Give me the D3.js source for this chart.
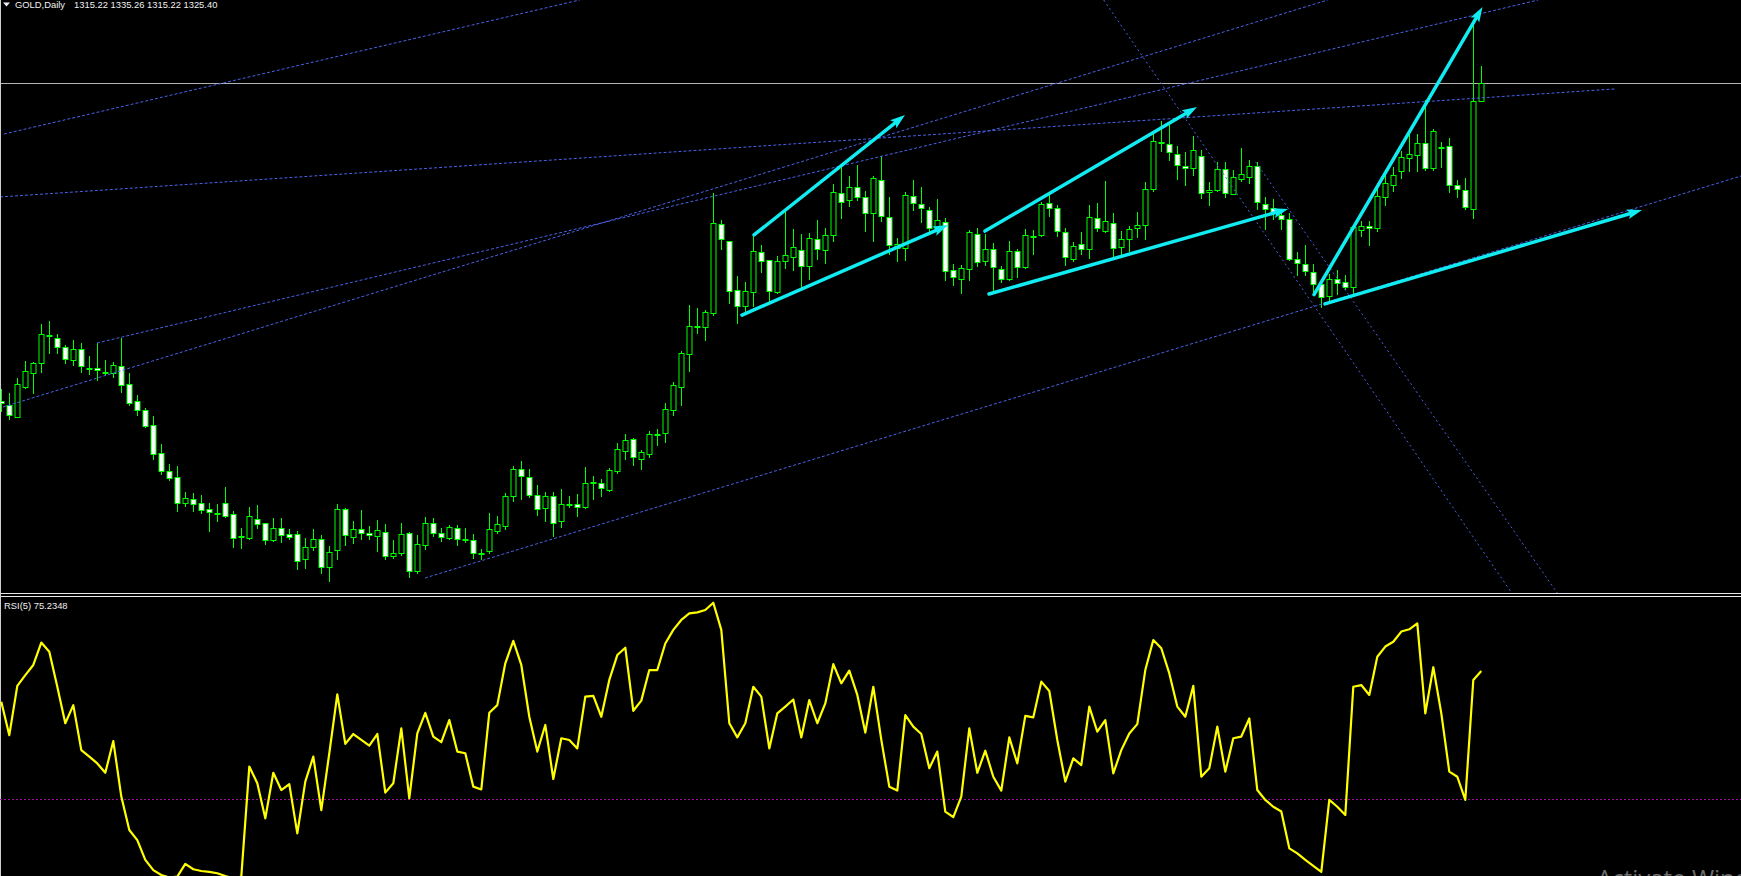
<!DOCTYPE html>
<html><head><meta charset="utf-8">
<script src="https://cdn.jsdelivr.net/npm/d3@7"></script>
<style>html,body{margin:0;padding:0;background:#000;overflow:hidden}svg{display:block}</style>
</head><body><svg id="c" width="1741" height="876"></svg>
<script>
// ---- DATA (GOLD, Daily) ----
const opens=[1145.7,1143.6,1136.8,1153.6,1161.7,1167.4,1182.3,1181.1,1176.0,1169.1,
1174.9,1164.6,1164.2,1162.0,1161.7,1165.3,1155.1,1145.5,1140.4,1131.9,
1116.1,1105.9,1102.5,1088.2,1090.1,1087.8,1084.4,1082.4,1087.8,1081.6,
1069.3,1068.4,1078.8,1076.5,1067.3,1073.7,1070.3,1070.3,1056.1,1063.3,
1067.5,1051.6,1061.2,1084.4,1069.0,1073.1,1070.9,1069.5,1071.4,1057.8,
1059.5,1070.9,1049.7,1064.1,1076.5,1070.9,1068.4,1073.7,1067.5,1066.9,
1059.5,1060.7,1072.0,1075.2,1092.2,1107.1,1102.5,1092.7,1085.0,1091.8,
1077.6,1087.4,1087.3,1085.6,1099.7,1099.5,1095.5,1106.3,1117.6,1124.0,
1113.1,1115.9,1127.2,1127.4,1140.4,1153.8,1172.1,1188.1,1187.7,1195.7,
1245.6,1236.0,1208.3,1199.6,1207.5,1229.8,1225.3,1207.5,1224.7,1227.0,
1230.9,1221.9,1237.1,1230.9,1239.4,1263.2,1259.2,1266.5,1260.9,1252.2,
1270.5,1249.6,1232.0,1232.0,1261.5,1256.9,1253.5,1243.7,1247.1,1219.6,
1214.9,1220.5,1240.0,1224.7,1231.5,1220.2,1214.9,1230.4,1221.3,1239.2,
1239.4,1257.5,1254.7,1241.1,1225.8,1234.3,1231.5,1249.0,1241.7,1246.2,
1232.6,1237.1,1243.4,1245.1,1265.8,1292.0,1290.9,1285.2,1278.8,1277.3,
1284.1,1263.7,1265.0,1277.1,1263.0,1271.5,1272.6,1278.4,1257.3,1254.7,
1250.7,1248.4,1226.2,1223.0,1218.9,1212.1,1204.9,1214.5,1212.8,1210.0,
1242.2,1244.7,1243.4,1261.3,1268.1,1275.6,1282.9,1284.6,1291.4,1277.7,
1289.4,1289.9,1267.7,1264.9,1254.1,1315.22];
const highs=[1152.3,1150.0,1158.5,1168.3,1167.6,1189.2,1190.9,1183.6,1177.4,1180.2,
1178.3,1171.2,1178.3,1168.9,1167.8,1181.5,1161.3,1149.1,1141.6,1137.2,
1121.4,1110.1,1108.9,1094.2,1093.5,1092.3,1087.8,1087.4,1096.9,1083.7,
1073.7,1085.6,1086.9,1076.9,1079.3,1079.3,1073.3,1072.0,1068.2,1073.3,
1069.9,1063.7,1087.4,1085.0,1077.6,1084.0,1075.0,1078.4,1075.9,1067.1,
1076.7,1071.6,1069.9,1080.1,1079.7,1073.7,1075.6,1075.8,1074.1,1070.7,
1062.0,1082.2,1080.5,1093.9,1108.9,1111.8,1107.1,1098.0,1094.2,1094.2,
1095.9,1092.0,1092.9,1108.4,1103.3,1101.4,1107.6,1121.8,1126.9,1124.8,
1118.0,1128.5,1129.7,1144.4,1156.3,1173.8,1200.0,1198.1,1197.2,1263.2,
1248.1,1236.4,1216.4,1213.0,1240.2,1233.9,1225.6,1227.7,1252.8,1242.8,
1240.2,1240.7,1248.1,1243.4,1268.4,1278.2,1273.0,1279.2,1264.5,1273.0,
1284.3,1261.1,1237.7,1263.7,1270.7,1266.5,1255.2,1259.9,1249.0,1223.2,
1222.6,1242.4,1243.5,1240.2,1234.9,1222.1,1236.2,1231.5,1243.0,1242.4,
1258.1,1262.2,1256.4,1243.5,1235.6,1241.3,1256.4,1257.5,1270.1,1252.0,
1241.9,1244.7,1252.6,1269.6,1297.7,1304.1,1301.8,1289.9,1286.3,1295.6,
1287.7,1269.4,1281.1,1280.9,1276.4,1288.6,1282.0,1281.1,1260.9,1259.9,
1253.7,1251.8,1230.0,1233.7,1223.2,1213.2,1217.7,1219.8,1217.0,1245.2,
1247.5,1247.7,1268.8,1274.8,1278.2,1287.3,1296.7,1296.7,1315.9,1299.5,
1292.4,1294.6,1270.7,1271.8,1358.4,1335.26];
const lows=[1140.2,1135.3,1136.5,1153.2,1150.4,1162.3,1173.0,1173.0,1167.4,1166.1,
1162.3,1161.0,1157.6,1161.0,1159.5,1151.0,1143.4,1137.8,1130.8,1112.9,
1104.4,1101.0,1083.7,1086.3,1083.7,1082.5,1072.4,1078.0,1079.9,1063.3,
1062.7,1067.5,1073.9,1065.0,1066.5,1066.1,1067.6,1050.9,1051.2,1061.4,
1048.6,1044.1,1056.1,1064.4,1065.6,1067.5,1067.5,1060.7,1056.5,1057.1,
1058.6,1046.0,1048.6,1062.2,1069.3,1066.7,1067.8,1064.4,1065.8,1057.1,
1056.1,1059.7,1070.9,1073.1,1089.3,1090.5,1091.6,1081.4,1078.0,1069.5,
1074.6,1085.9,1080.8,1085.2,1090.5,1092.2,1095.0,1105.2,1113.1,1109.7,
1107.1,1113.8,1120.8,1122.7,1137.8,1143.4,1162.9,1184.4,1180.4,1194.5,
1231.9,1201.3,1190.0,1196.2,1199.4,1218.9,1201.9,1206.6,1221.1,1219.8,
1210.4,1214.9,1226.0,1223.9,1236.4,1249.4,1256.2,1259.6,1241.9,1236.4,
1247.7,1228.8,1225.1,1225.5,1253.7,1247.1,1241.9,1242.4,1214.1,1211.3,
1207.0,1214.1,1222.2,1222.6,1208.1,1213.2,1214.1,1216.0,1220.9,1228.8,
1239.0,1250.5,1239.0,1222.8,1224.7,1228.8,1226.8,1241.7,1241.3,1227.0,
1228.8,1230.7,1238.6,1237.1,1264.3,1287.3,1282.0,1271.5,1268.1,1273.7,
1260.7,1256.4,1264.3,1261.3,1262.6,1270.3,1268.8,1254.5,1243.2,1248.4,
1242.8,1225.5,1217.2,1217.2,1206.0,1199.1,1202.8,1206.0,1208.9,1205.7,
1239.2,1233.9,1241.9,1256.4,1264.3,1271.8,1276.0,1276.0,1276.4,1276.2,
1278.2,1264.1,1260.9,1254.1,1249.4,1315.22];
const closes=[1144.4,1137.6,1155.1,1162.5,1167.4,1183.4,1183.0,1176.0,1169.6,1174.9,
1165.7,1164.2,1163.0,1161.8,1165.9,1154.9,1144.8,1140.8,1131.7,1115.9,
1106.3,1102.3,1088.2,1090.6,1087.6,1084.2,1083.1,1082.0,1080.8,1068.4,
1069.0,1080.5,1076.3,1067.3,1073.7,1069.7,1069.0,1055.4,1062.9,1067.5,
1051.6,1060.1,1084.4,1069.7,1073.1,1070.9,1069.7,1072.6,1057.8,1059.5,
1070.3,1049.4,1064.6,1076.5,1070.9,1068.6,1074.2,1067.5,1067.1,1059.5,
1059.2,1073.1,1075.9,1091.8,1107.1,1103.1,1092.3,1084.4,1091.8,1076.5,
1087.3,1087.1,1085.6,1099.1,1099.3,1096.3,1106.5,1118.4,1123.5,1113.8,
1116.7,1126.9,1126.9,1141.0,1154.6,1172.9,1187.9,1187.7,1195.9,1246.2,
1237.1,1208.1,1199.2,1207.7,1230.5,1225.1,1207.7,1224.9,1228.1,1232.6,
1221.9,1237.7,1231.5,1239.4,1263.7,1258.4,1266.5,1260.9,1252.2,1271.6,
1250.1,1234.1,1234.7,1262.0,1257.5,1254.7,1243.4,1247.9,1219.0,1216.0,
1220.7,1241.1,1224.1,1231.5,1221.3,1214.5,1230.4,1221.3,1239.4,1238.8,
1256.9,1254.7,1241.7,1227.0,1233.4,1231.5,1249.6,1243.4,1247.3,1232.0,
1237.1,1242.8,1245.1,1265.4,1292.6,1291.6,1286.3,1279.0,1277.3,1287.5,
1263.2,1264.9,1276.7,1263.2,1272.2,1273.9,1278.4,1258.1,1254.1,1252.2,
1248.4,1226.2,1223.6,1219.0,1212.1,1204.3,1214.5,1212.3,1210.0,1243.9,
1244.7,1243.4,1261.8,1269.0,1273.3,1283.5,1285.2,1291.4,1277.7,1298.2,
1289.0,1267.7,1265.4,1255.6,1315.2,1325.40];
const rsiValues=[64.4,52.6,70.0,73.8,77.4,85.3,82.1,69.7,56.8,63.2,
47.3,45.0,42.6,39.3,50.5,30.9,19.1,15.5,8.5,4.9,
3.2,2.3,2.6,7.1,5.2,4.6,4.3,3.8,2.8,2.0,
2.6,41.5,35.6,23.2,39.3,33.2,35.3,17.9,36.2,45.0,
26.1,46.2,67.0,49.5,53.0,50.9,48.9,53.0,32.3,35.6,
55.0,30.3,53.2,60.5,52.1,50.1,57.9,46.8,46.2,34.4,
33.4,60.5,63.2,78.0,85.9,77.4,59.1,46.8,56.2,37.1,
51.5,50.9,47.9,66.2,66.5,59.1,72.1,80.9,83.5,61.2,
64.8,75.6,75.6,85.0,89.8,93.3,95.6,96.0,96.8,99.4,
89.8,56.8,51.8,56.8,69.7,66.2,47.9,60.3,62.7,65.2,
51.8,65.0,56.8,63.8,77.7,70.9,75.4,66.8,53.5,69.7,
50.9,34.4,33.0,59.7,55.6,53.0,40.9,46.8,25.6,23.6,
30.9,55.0,39.3,47.1,37.9,33.0,51.8,42.6,59.4,58.9,
71.5,68.2,50.9,36.2,44.4,42.0,62.7,53.8,57.9,39.1,
47.3,53.2,56.5,75.6,86.2,83.3,74.4,62.7,59.1,70.0,
37.9,40.9,55.6,39.7,51.5,52.1,58.5,33.2,29.7,27.3,
25.6,12.6,10.8,8.5,6.4,4.3,29.7,27.3,24.4,69.7,
70.3,66.8,80.3,83.9,85.6,89.2,90.0,92.1,60.3,76.6,
60.3,39.7,37.9,29.7,72.1,75.2348];
const titleSymbol="GOLD,Daily";
const titleOHLC="1315.22 1335.26 1315.22 1325.40";
const rsiLabel="RSI(5) 75.2348";
const rsiLevels=[30];
const bidPrice=1325.40;
// trend lines: [bar1, price1, bar2, price2]
const trendLines=[
 [0.34,1296.7,72.3,1372.5],
 [-0.16,1261.1,201.7,1322.2],
 [11.96,1178.5,192.1,1372.5],
 [0.21,1142.3,165.8,1372.5],
 [52.96,1045.6,217.5,1273.0]];
const channelLines=[
 [137.8,1372.5,188.8,1037.1],
 [156.8,1280.9,194.5,1037.1]];
// arrows: [bar1, price1, bar2, price2]
const arrows=[
 [94.09,1239.6,112.96,1307.5],
 [92.59,1194.3,118.34,1245.2],
 [122.96,1241.8,149.46,1312.0],
 [123.46,1206.2,160.84,1254.3],
 [164.09,1205.9,185.15,1368.5],
 [165.46,1200.6,205.09,1253.7]];

// ---- DRAW ----
const W=1741,H=876, MAIN_B=593, RSI_T=597;
const svg=d3.select("#c");
svg.append("rect").attr("width",W).attr("height",H).attr("fill","#000");
const x=d3.scaleLinear().domain([0,185]).range([1.3,1481.3]);
const y=d3.scaleLinear().domain([1037.1,1372.5]).range([MAIN_B,0]);
const yR=d3.scaleLinear().domain([0,100]).range([884,601]);
const defs=svg.append("defs");
defs.append("clipPath").attr("id","cm").append("rect").attr("x",0).attr("y",0).attr("width",W).attr("height",MAIN_B);
defs.append("clipPath").attr("id","cr").append("rect").attr("x",0).attr("y",RSI_T).attr("width",W).attr("height",H-RSI_T);
const gm=svg.append("g").attr("clip-path","url(#cm)");
// bid line
gm.append("line").attr("x1",0).attr("x2",W).attr("y1",Math.round(y(bidPrice))+0.5).attr("y2",Math.round(y(bidPrice))+0.5)
 .attr("stroke","#b4b4b4").attr("stroke-width",1);
// candles
const idx=d3.range(opens.length);
const cg=gm.append("g");
idx.forEach(i=>{
  const cx=Math.round(x(i))+0.5;
  cg.append("line").attr("x1",cx).attr("x2",cx).attr("y1",Math.round(y(highs[i]))).attr("y2",Math.round(y(lows[i]))+1)
    .attr("stroke","#00ff00").attr("stroke-width",1);
  const top=Math.round(y(Math.max(opens[i],closes[i])))+0.5;
  const bot=Math.round(y(Math.min(opens[i],closes[i])))+0.5;
  cg.append("rect").attr("x",cx-2.5).attr("y",top).attr("width",5).attr("height",Math.max(bot-top,1))
    .attr("fill",closes[i]>opens[i]?"#000":"#fff").attr("stroke","#00ff00").attr("stroke-width",1);
});
// blue dotted lines
trendLines.forEach(t=>{
  gm.append("line").attr("x1",x(t[0])).attr("y1",y(t[1])).attr("x2",x(t[2])).attr("y2",y(t[3]))
    .attr("stroke","#4a62e6").attr("stroke-width",1).attr("stroke-dasharray","3,2");
});
channelLines.forEach(t=>{
  gm.append("line").attr("x1",x(t[0])).attr("y1",y(t[1])).attr("x2",x(t[2])).attr("y2",y(t[3]))
    .attr("stroke","#4a62e6").attr("stroke-width",1).attr("stroke-dasharray","2,3");
});
// cyan arrows
arrows.forEach(a=>{
  const x1=x(a[0]),y1=y(a[1]),x2=x(a[2]),y2=y(a[3]);
  const dx=x2-x1,dy=y2-y1,len=Math.hypot(dx,dy),ux=dx/len,uy=dy/len;
  const hl=15,hw=5;
  const bx=x2-ux*hl,by=y2-uy*hl;
  gm.append("line").attr("x1",x1).attr("y1",y1).attr("x2",bx+ux*2).attr("y2",by+uy*2)
    .attr("stroke","#10ecf2").attr("stroke-width",3.5).attr("stroke-linecap","round");
  gm.append("path").attr("d",`M${x2},${y2}L${bx-uy*hw},${by+ux*hw}L${bx+ux*3},${by+uy*3}L${bx+uy*hw},${by-ux*hw}Z`)
    .attr("fill","#10ecf2");
});
// separators & border
[593.5,596.5].forEach(v=>svg.append("line").attr("x1",0).attr("x2",W).attr("y1",v).attr("y2",v).attr("stroke","#e8e8e8").attr("stroke-width",1));
svg.append("line").attr("x1",0.5).attr("x2",0.5).attr("y1",0).attr("y2",H).attr("stroke","#cfcfcf").attr("stroke-width",1);
// RSI panel
const gr=svg.append("g").attr("clip-path","url(#cr)");
rsiLevels.forEach(l=>{
  gr.append("line").attr("x1",0).attr("x2",W).attr("y1",Math.round(yR(l))+0.5).attr("y2",Math.round(yR(l))+0.5)
   .attr("stroke","#a010a0").attr("stroke-width",1).attr("stroke-dasharray","2,2");
});
gr.append("path").datum(rsiValues)
  .attr("d",d3.line().x((d,i)=>x(i)).y(d=>yR(d)))
  .attr("fill","none").attr("stroke","#ffff00").attr("stroke-width",2.2).attr("stroke-linejoin","round");
// texts
const font="'Liberation Sans', Arial, sans-serif";
svg.append("path").attr("d","M3,2.5L10,2.5L6.5,6.5Z").attr("fill","#f0f0f0");
svg.append("text").attr("x",15).attr("y",7.8).attr("font-family",font).attr("font-size",9.4).attr("fill","#f0f0f0").text(titleSymbol);
svg.append("text").attr("x",74).attr("y",7.8).attr("font-family",font).attr("font-size",9.4).attr("fill","#f0f0f0").text(titleOHLC);
svg.append("text").attr("x",4).attr("y",609.3).attr("font-family",font).attr("font-size",9.4).attr("fill","#f0f0f0").text(rsiLabel);
svg.append("text").attr("x",1597).attr("y",887).attr("font-family","'Open Sans', 'Liberation Sans', sans-serif").attr("font-size",24).attr("fill","#6c6c6c").text("Activate Windows");
</script>
</body></html>
